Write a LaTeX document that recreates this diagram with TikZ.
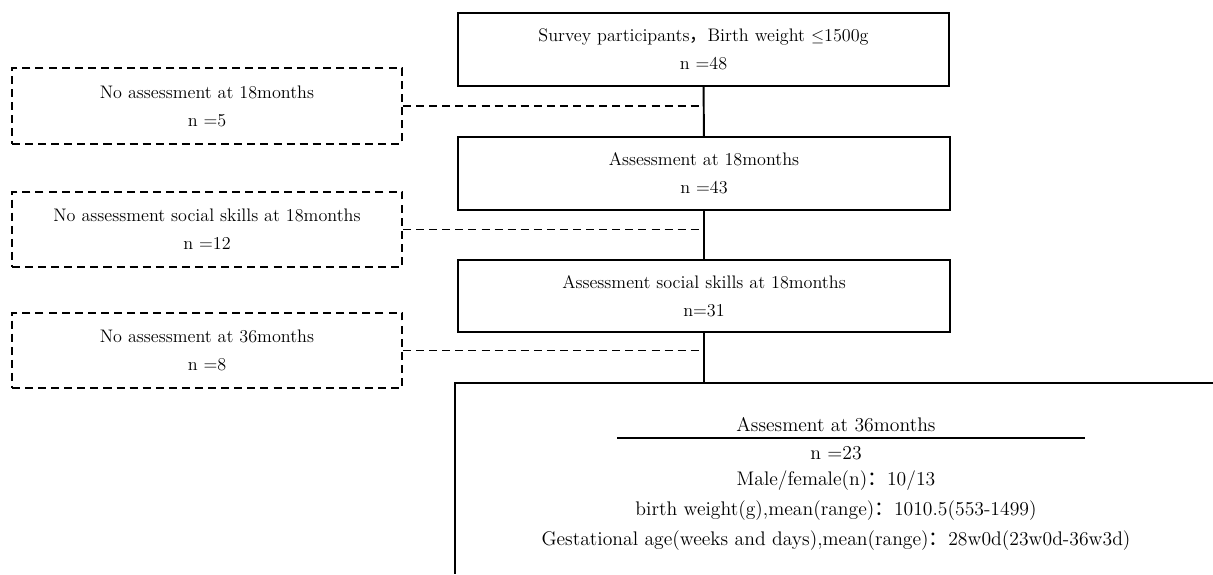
\documentclass[tikz,border=0pt]{standalone}
\usepackage{fontspec}
\newfontfamily\cjkfont{Noto Sans CJK SC}
\usetikzlibrary{positioning}

\begin{document}
\begin{tikzpicture}[x=0.025cm,y=-0.025cm,
  font=\fontsize{12.9}{20}\selectfont,
  mainbox/.style={rectangle,draw,line width=1.4pt,minimum width=12.28cm,minimum height=1.82cm,align=center},
  skipbox/.style={rectangle,draw,dashed,line width=1.4pt,dash pattern=on 5.7pt off 3.6pt,minimum width=9.75cm,minimum height=1.88cm,align=center},
  skipline/.style={line width=1.4pt,dash pattern=on 5.7pt off 3.6pt},
  flowline/.style={line width=1.4pt},
  result/.style={font=\fontsize{14}{16}\selectfont}]
\useasboundingbox (0,0) rectangle (1213,574);

\coordinate (P) at (703.5,49.5);
\coordinate (Q) at (704,173.5);
\coordinate (R) at (704,296);
\coordinate (A) at (207,106);
\coordinate (B) at (207,229.5);
\coordinate (C) at (207,350.5);
\coordinate (F) at (455,383);
\coordinate (G) at (1213,383);
\coordinate (H) at (455,574);
\coordinate (U1) at (617,438);
\coordinate (U2) at (1085,438);

\node[mainbox] (survey) at (P) {Survey participants{\cjkfont ，}Birth weight $\leq$1500g\\n =48};
\node[mainbox] (assess18) at (Q) {Assessment at 18months\\n =43};
\node[mainbox] (social18) at (R) {Assessment social skills at 18months\\n=31};

\node[skipbox] (noassess18) at (A) {No assessment at 18months\\n =5};
\node[skipbox] (nosocial18) at (B) {No assessment social skills at 18months\\n =12};
\node[skipbox] (noassess36) at (C) {No assessment at 36months\\n =8};

\node[result] (title36) at (836,425) {Assesment at 36months};
\node[result] (n36) at (836,453) {n =23};
\node[result] (sex36) at (836,481) {Male/female(n){\cjkfont ：}10/13};
\node[result] (bw36) at (836,511) {birth weight(g),mean(range){\cjkfont ：}1010.5(553-1499)};
\node[result] (ga36) at (836,541) {Gestational age(weeks and days),mean(range){\cjkfont ：}28w0d(23w0d-36w3d)};

\draw[flowline] (survey) -- (assess18);
\draw[flowline] (assess18) -- (social18);
\draw[flowline] (social18.south) -- (social18.south |- F);
\draw[flowline] (G) -- (F) -- (H);
\draw[flowline] (U1) -- (U2);

\draw[skipline] (noassess18.east) -- (noassess18.east -| survey.south);
\draw[skipline] (nosocial18.east) -- (nosocial18.east -| survey.south);
\draw[skipline] (noassess36.east) -- (noassess36.east -| survey.south);

\end{tikzpicture}
\end{document}
